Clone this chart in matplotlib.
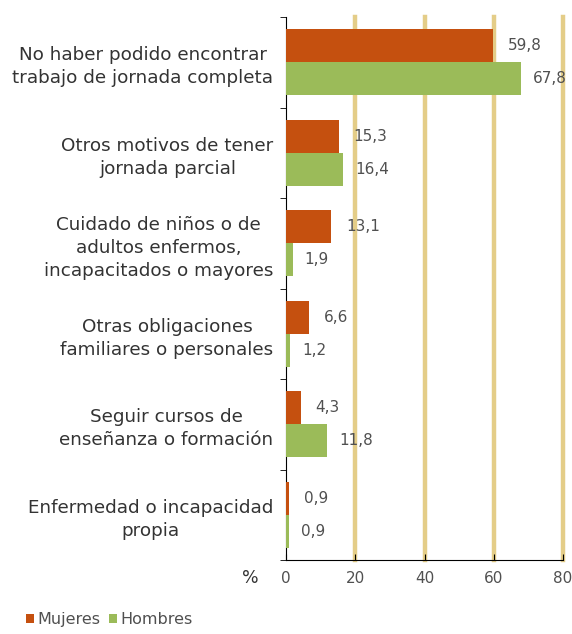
import numpy as np
import matplotlib.pyplot as plt

categories = [
    "No haber podido encontrar\ntrabajo de jornada completa",
    "Otros motivos de tener\njornada parcial",
    "Cuidado de niños o de\nadultos enfermos,\nincapacitados o mayores",
    "Otras obligaciones\nfamiliares o personales",
    "Seguir cursos de\nenseñanza o formación",
    "Enfermedad o incapacidad\npropia",
]
mujeres = [59.8, 15.3, 13.1, 6.6, 4.3, 0.9]
hombres = [67.8, 16.4, 1.9, 1.2, 11.8, 0.9]
xticks = [0, 20, 40, 60, 80]

RED = "#C5500F"
GREEN = "#9BBB59"
GRID = "#E4CD88"
TXT = "#505050"

plt.rcParams["font.family"] = ["DejaVu Sans"]

fig = plt.figure(figsize=(5.72, 6.34), dpi=100)
ax = fig.add_axes([286 / 572, 1 - 560 / 634, 277 / 572, 543 / 634])

n = len(categories)
y = np.arange(n)
h = 0.365
ax.barh(y - h / 2, mujeres, height=h, color=RED, zorder=3, label="Mujeres")
ax.barh(y + h / 2, hombres, height=h, color=GREEN, zorder=3, label="Hombres")

for i in range(n):
    ax.text(mujeres[i] + 4.2, y[i] - h / 2, f"{mujeres[i]:.1f}".replace(".", ","),
            va="center", ha="left", fontsize=11, color=TXT)
    ax.text(hombres[i] + 3.5, y[i] + h / 2, f"{hombres[i]:.1f}".replace(".", ","),
            va="center", ha="left", fontsize=11, color=TXT)

ax.set_xlim(0, 80)
ax.set_ylim(n - 0.5, -0.5)
ax.set_xticks(xticks)
ax.set_xticklabels([str(t) for t in xticks], fontsize=11, color=TXT)
ax.set_yticks(y)
ax.set_yticklabels(categories, fontsize=13.2, color="#333333", ha="right",
                   multialignment="center", linespacing=1.35)
ax.tick_params(axis="y", length=0, pad=9)
ax.set_yticks(np.arange(-0.5, n, 1), minor=True)
ax.tick_params(axis="y", which="minor", length=4, direction="out")
ax.tick_params(axis="x", length=4, direction="in", pad=8)

for t in xticks[1:]:
    ax.axvline(t, color=GRID, linewidth=3.2, zorder=0, clip_on=False)
for s in ["top", "right"]:
    ax.spines[s].set_visible(False)
ax.spines["left"].set_color("black")
ax.spines["bottom"].set_color("black")

fig.text(250 / 572, 1 - 578 / 634, "%", fontsize=12.5, color="#333333",
         ha="center", va="center")

fig.legend(loc="lower left", bbox_to_anchor=(0.02, -0.012), ncol=2,
           frameon=False, fontsize=11.5, handlelength=0.5, handleheight=0.5,
           handletextpad=0.25, columnspacing=0.5, labelcolor=TXT)

fig.savefig("out.png", dpi=100)
